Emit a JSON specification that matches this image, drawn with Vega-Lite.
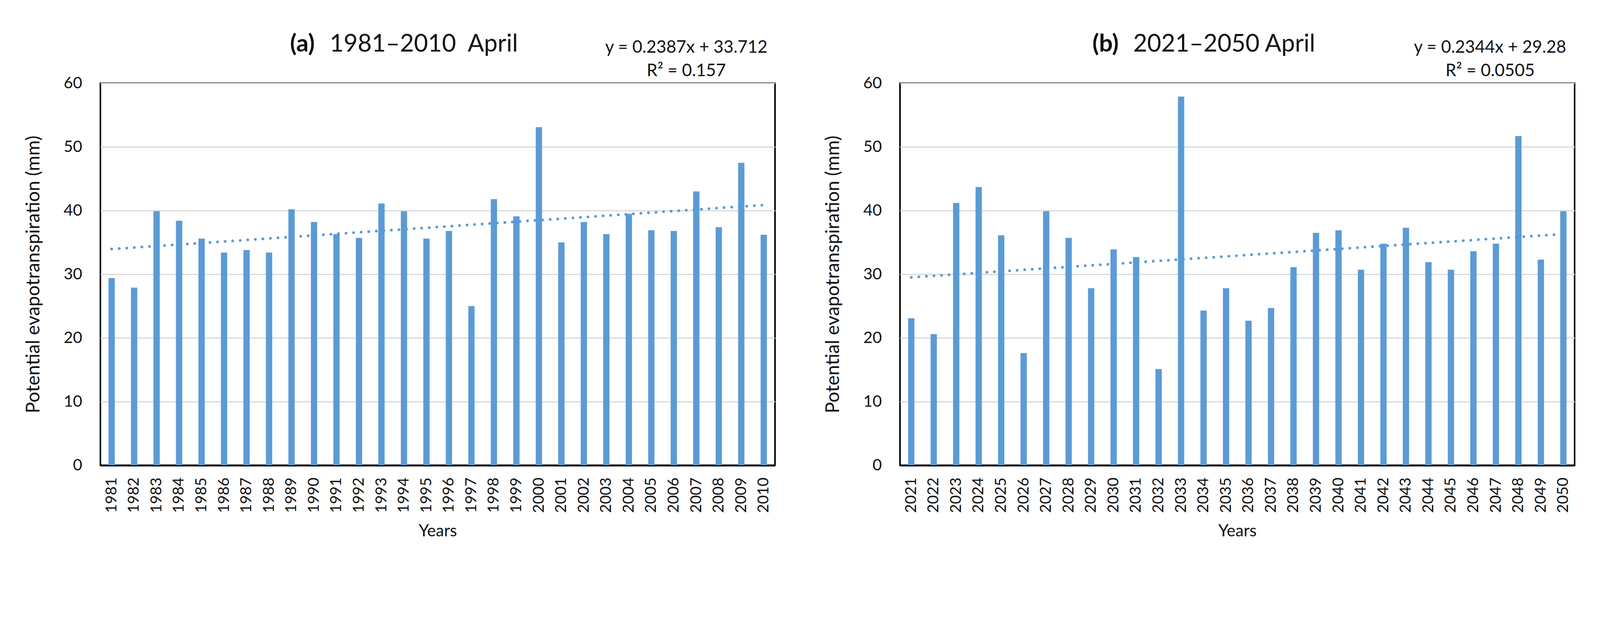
{
  "$schema": "https://vega.github.io/schema/vega-lite/v6.json",
  "background": "white",
  "padding": {"left": 60, "top": 79, "right": 60, "bottom": 90},
  "spacing": 121,
  "config": {
    "font": "Lato",
    "view": {"stroke": "#000000", "strokeWidth": 4},
    "axisX": {
      "labelAngle": -90, "labelFontSize": 39, "labelPadding": 31, "labelColor": "#111111",
      "ticks": false, "tickSize": 0, "domain": true, "domainColor": "#000000", "domainWidth": 5,
      "grid": false, "titleFontSize": 42, "titleFontWeight": "normal", "titleColor": "#111111", "titlePadding": 27
    },
    "axisY": {
      "labelFontSize": 41, "labelPadding": 47, "labelColor": "#111111",
      "ticks": false, "tickSize": 0, "domain": false,
      "grid": true, "gridColor": "#D9D9D9", "gridWidth": 3,
      "titleFontSize": 48, "titleFontWeight": "normal", "titleColor": "#111111", "titlePadding": 52
    },
    "text": {"color": "#111111"}
  },
  "datasets": {
    "a": [
      {"year": 1981, "pet": 29.4, "trend": 33.95},
      {"year": 1982, "pet": 27.9, "trend": 34.19},
      {"year": 1983, "pet": 39.9, "trend": 34.43},
      {"year": 1984, "pet": 38.4, "trend": 34.67},
      {"year": 1985, "pet": 35.6, "trend": 34.91},
      {"year": 1986, "pet": 33.4, "trend": 35.14},
      {"year": 1987, "pet": 33.8, "trend": 35.38},
      {"year": 1988, "pet": 33.4, "trend": 35.62},
      {"year": 1989, "pet": 40.2, "trend": 35.86},
      {"year": 1990, "pet": 38.2, "trend": 36.10},
      {"year": 1991, "pet": 36.3, "trend": 36.34},
      {"year": 1992, "pet": 35.7, "trend": 36.58},
      {"year": 1993, "pet": 41.1, "trend": 36.82},
      {"year": 1994, "pet": 39.9, "trend": 37.05},
      {"year": 1995, "pet": 35.6, "trend": 37.29},
      {"year": 1996, "pet": 36.8, "trend": 37.53},
      {"year": 1997, "pet": 25.0, "trend": 37.77},
      {"year": 1998, "pet": 41.8, "trend": 38.01},
      {"year": 1999, "pet": 39.1, "trend": 38.25},
      {"year": 2000, "pet": 53.1, "trend": 38.49},
      {"year": 2001, "pet": 35.0, "trend": 38.72},
      {"year": 2002, "pet": 38.2, "trend": 38.96},
      {"year": 2003, "pet": 36.3, "trend": 39.20},
      {"year": 2004, "pet": 39.5, "trend": 39.44},
      {"year": 2005, "pet": 36.9, "trend": 39.68},
      {"year": 2006, "pet": 36.8, "trend": 39.92},
      {"year": 2007, "pet": 43.0, "trend": 40.16},
      {"year": 2008, "pet": 37.4, "trend": 40.40},
      {"year": 2009, "pet": 47.5, "trend": 40.63},
      {"year": 2010, "pet": 36.2, "trend": 40.87}
    ],
    "b": [
      {"year": 2021, "pet": 23.1, "trend": 29.51},
      {"year": 2022, "pet": 20.6, "trend": 29.75},
      {"year": 2023, "pet": 41.2, "trend": 29.98},
      {"year": 2024, "pet": 43.7, "trend": 30.22},
      {"year": 2025, "pet": 36.1, "trend": 30.45},
      {"year": 2026, "pet": 17.6, "trend": 30.69},
      {"year": 2027, "pet": 39.9, "trend": 30.92},
      {"year": 2028, "pet": 35.7, "trend": 31.16},
      {"year": 2029, "pet": 27.8, "trend": 31.39},
      {"year": 2030, "pet": 33.9, "trend": 31.62},
      {"year": 2031, "pet": 32.7, "trend": 31.86},
      {"year": 2032, "pet": 15.1, "trend": 32.09},
      {"year": 2033, "pet": 57.9, "trend": 32.33},
      {"year": 2034, "pet": 24.3, "trend": 32.56},
      {"year": 2035, "pet": 27.8, "trend": 32.80},
      {"year": 2036, "pet": 22.7, "trend": 33.03},
      {"year": 2037, "pet": 24.7, "trend": 33.26},
      {"year": 2038, "pet": 31.1, "trend": 33.50},
      {"year": 2039, "pet": 36.5, "trend": 33.73},
      {"year": 2040, "pet": 36.9, "trend": 33.97},
      {"year": 2041, "pet": 30.7, "trend": 34.20},
      {"year": 2042, "pet": 34.8, "trend": 34.44},
      {"year": 2043, "pet": 37.3, "trend": 34.67},
      {"year": 2044, "pet": 31.9, "trend": 34.91},
      {"year": 2045, "pet": 30.7, "trend": 35.14},
      {"year": 2046, "pet": 33.6, "trend": 35.37},
      {"year": 2047, "pet": 34.8, "trend": 35.61},
      {"year": 2048, "pet": 51.7, "trend": 35.84},
      {"year": 2049, "pet": 32.3, "trend": 36.08},
      {"year": 2050, "pet": 39.9, "trend": 36.31}
    ]
  },
  "hconcat": [
    {
      "width": 1727,
      "height": 978,
      "data": {"name": "a"},
      "layer": [
        {
          "mark": {"type": "bar", "color": "#5B9BD5"},
          "encoding": {
            "x": {"field": "year", "type": "ordinal", "title": "Years",
                  "scale": {"paddingInner": 0.72, "paddingOuter": 0.36}},
            "y": {"field": "pet", "type": "quantitative", "title": "Potential evapotranspiration (mm)",
                  "scale": {"domain": [0, 60], "nice": false},
                  "axis": {"values": [0, 10, 20, 30, 40, 50, 60]}}
          }
        },
        {
          "mark": {"type": "line", "color": "#5B9BD5", "strokeWidth": 7, "strokeDash": [0.1, 19.3], "strokeCap": "round"},
          "encoding": {
            "x": {"field": "year", "type": "ordinal"},
            "y": {"field": "trend", "type": "quantitative"}
          }
        },
        {
          "data": {"values": [{"label": "(a)"}]},
          "mark": {"type": "text", "align": "right", "baseline": "alphabetic", "fontSize": 62, "fontWeight": "bold", "dx": 2},
          "encoding": {
            "x": {"datum": 1990, "type": "ordinal"},
            "y": {"datum": 65, "type": "quantitative"},
            "text": {"field": "label"}
          }
        },
        {
          "data": {"values": [{"label": "1981–2010\u00a0 April"}]},
          "mark": {"type": "text", "align": "left", "baseline": "alphabetic", "fontSize": 62, "dx": 40},
          "encoding": {
            "x": {"datum": 1990, "type": "ordinal"},
            "y": {"datum": 65, "type": "quantitative"},
            "text": {"field": "label"}
          }
        },
        {
          "data": {"values": [{"label": "y = 0.2387x + 33.712\nR² = 0.157"}]},
          "mark": {"type": "text", "align": "center", "baseline": "alphabetic", "fontSize": 44, "lineHeight": 60, "lineBreak": "\n", "dx": 32},
          "encoding": {
            "x": {"datum": 2006, "type": "ordinal"},
            "y": {"datum": 64.79, "type": "quantitative"},
            "text": {"field": "label"}
          }
        }
      ]
    },
    {
      "width": 1727,
      "height": 978,
      "data": {"name": "b"},
      "layer": [
        {
          "mark": {"type": "bar", "color": "#5B9BD5"},
          "encoding": {
            "x": {"field": "year", "type": "ordinal", "title": "Years",
                  "scale": {"paddingInner": 0.72, "paddingOuter": 0.36}},
            "y": {"field": "pet", "type": "quantitative", "title": "Potential evapotranspiration (mm)",
                  "scale": {"domain": [0, 60], "nice": false},
                  "axis": {"values": [0, 10, 20, 30, 40, 50, 60]}}
          }
        },
        {
          "mark": {"type": "line", "color": "#5B9BD5", "strokeWidth": 7, "strokeDash": [0.1, 19.3], "strokeCap": "round"},
          "encoding": {
            "x": {"field": "year", "type": "ordinal"},
            "y": {"field": "trend", "type": "quantitative"}
          }
        },
        {
          "data": {"values": [{"label": "(b)"}]},
          "mark": {"type": "text", "align": "right", "baseline": "alphabetic", "fontSize": 62, "fontWeight": "bold", "dx": 13},
          "encoding": {
            "x": {"datum": 2030, "type": "ordinal"},
            "y": {"datum": 65, "type": "quantitative"},
            "text": {"field": "label"}
          }
        },
        {
          "data": {"values": [{"label": "2021–2050 April"}]},
          "mark": {"type": "text", "align": "left", "baseline": "alphabetic", "fontSize": 62, "dx": 50},
          "encoding": {
            "x": {"datum": 2030, "type": "ordinal"},
            "y": {"datum": 65, "type": "quantitative"},
            "text": {"field": "label"}
          }
        },
        {
          "data": {"values": [{"label": "y = 0.2344x + 29.28\nR² = 0.0505"}]},
          "mark": {"type": "text", "align": "center", "baseline": "alphabetic", "fontSize": 44, "lineHeight": 60, "lineBreak": "\n", "dx": -15},
          "encoding": {
            "x": {"datum": 2047, "type": "ordinal"},
            "y": {"datum": 64.79, "type": "quantitative"},
            "text": {"field": "label"}
          }
        }
      ]
    }
  ]
}
